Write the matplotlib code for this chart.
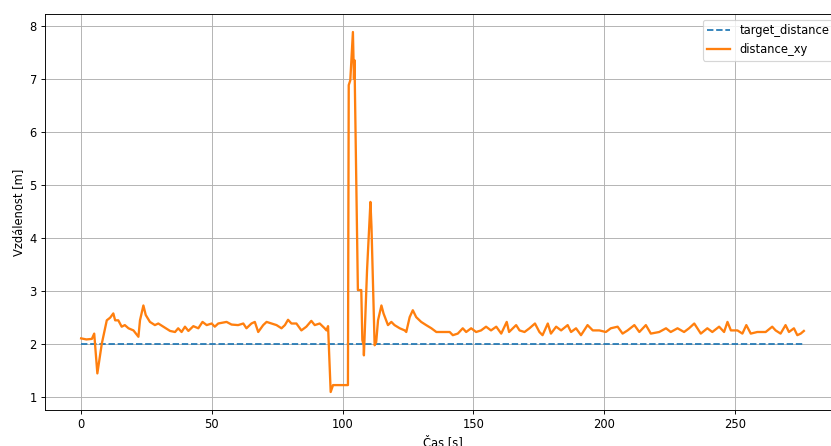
import matplotlib
matplotlib.use("Agg")
import matplotlib.pyplot as plt
import numpy as np

time_s = [
    0, 2, 4.1, 5.0, 6.2, 7.9, 9.8, 11.1, 12.3, 13.0, 14.2, 15.5, 16.7, 18.1,
    20.0, 21.9, 22.5, 23.8, 24.7, 26.3, 28.2, 29.5, 31.4, 34.0, 35.9, 37.1,
    38.4, 39.7, 41.0, 42.9, 44.8, 46.4, 48.0, 49.9, 51.1, 52.4, 55.6, 57.5,
    60.0, 62.0, 63.2, 65.1, 66.4, 67.7, 69.6, 70.9, 72.8, 74.7, 76.6, 77.9,
    79.1, 80.4, 82.3, 84.2, 86.1, 88.0, 89.3, 91.2, 93.1, 93.8, 94.4, 95.4,
    96.3, 102.0, 102.3, 102.9, 103.9, 104.3, 104.5, 105.8, 107.1, 107.5,
    108.0, 108.1, 109.3, 110.6, 111.0, 112.2, 112.8, 113.5, 114.8, 115.6,
    117.3, 118.6, 119.8, 121.8, 123.7, 124.3, 125.6, 126.8, 128.1, 130.0,
    131.9, 133.9, 135.8, 138.3, 140.9, 142.1, 144.0, 145.9, 147.2, 149.1,
    151.0, 152.9, 154.8, 156.7, 158.7, 160.6, 162.7, 163.6, 166.3, 167.6,
    169.5, 171.4, 173.5, 175.2, 176.4, 178.4, 179.6, 181.6, 183.5, 186.0,
    187.3, 189.2, 191.1, 193.6, 195.6, 198.1, 200.6, 202.5, 205.1, 207.0,
    208.9, 211.5, 213.4, 215.9, 217.8, 221.0, 223.6, 225.4, 228.0, 230.5,
    232.4, 234.4, 236.9, 239.4, 241.3, 243.9, 245.8, 247.1, 248.4, 250.9,
    252.8, 254.3, 256.0, 258.5, 261.7, 264.2, 265.5, 267.4, 269.3, 270.6,
    272.5, 273.8, 275.1, 276.3,
]
distance_xy = [
    2.11, 2.09, 2.10, 2.20, 1.45, 2.01, 2.45, 2.50, 2.58, 2.45, 2.45, 2.33,
    2.36, 2.30, 2.26, 2.14, 2.45, 2.73, 2.55, 2.42, 2.36, 2.39, 2.33, 2.25,
    2.23, 2.30, 2.23, 2.33, 2.25, 2.34, 2.30, 2.42, 2.36, 2.39, 2.33, 2.39,
    2.42, 2.37, 2.36, 2.39, 2.30, 2.39, 2.42, 2.23, 2.36, 2.42, 2.39, 2.36,
    2.30, 2.36, 2.46, 2.39, 2.39, 2.26, 2.33, 2.44, 2.36, 2.39, 2.30, 2.26,
    2.34, 1.10, 1.23, 1.23, 6.88, 6.97, 7.88, 7.00, 7.35, 3.02, 3.02, 2.08,
    1.98, 1.79, 3.39, 4.68, 4.21, 1.98, 2.04, 2.45, 2.73, 2.58, 2.36, 2.42,
    2.36, 2.30, 2.26, 2.23, 2.51, 2.64, 2.51, 2.42, 2.36, 2.30, 2.23, 2.23,
    2.23, 2.17, 2.20, 2.30, 2.23, 2.30, 2.23, 2.26, 2.33, 2.26, 2.33, 2.20,
    2.42, 2.23, 2.36, 2.26, 2.23, 2.30, 2.39, 2.23, 2.17, 2.39, 2.20, 2.33,
    2.26, 2.36, 2.23, 2.30, 2.17, 2.36, 2.26, 2.26, 2.23, 2.30, 2.33, 2.20,
    2.26, 2.36, 2.23, 2.36, 2.20, 2.23, 2.30, 2.23, 2.30, 2.23, 2.30, 2.39,
    2.20, 2.30, 2.23, 2.33, 2.23, 2.42, 2.26, 2.26, 2.20, 2.36, 2.20, 2.23,
    2.23, 2.33, 2.26, 2.20, 2.36, 2.23, 2.30, 2.17, 2.20, 2.25,
]
target_distance = 2.0

# original was rendered bigger and shrunk, so use a lower dpi
DPI = 83
fig = plt.figure(figsize=(831 / DPI, 446 / DPI), dpi=DPI)
# axes run past the right/bottom edge like the cropped original
ax = fig.add_axes([45 / 831, 36 / 446, 795 / 831, 396 / 446])

ax.plot([time_s[0], time_s[-1]], [target_distance, target_distance],
        linestyle='--', label='target_distance')
ax.plot(time_s, distance_xy, linewidth=2.0, label='distance_xy')

ax.set_xlabel('Čas [s]')
ax.set_ylabel('Vzdálenost [m]')
ax.grid(True)
ax.legend(loc='upper right')

plt.savefig('out.png', dpi=DPI)
